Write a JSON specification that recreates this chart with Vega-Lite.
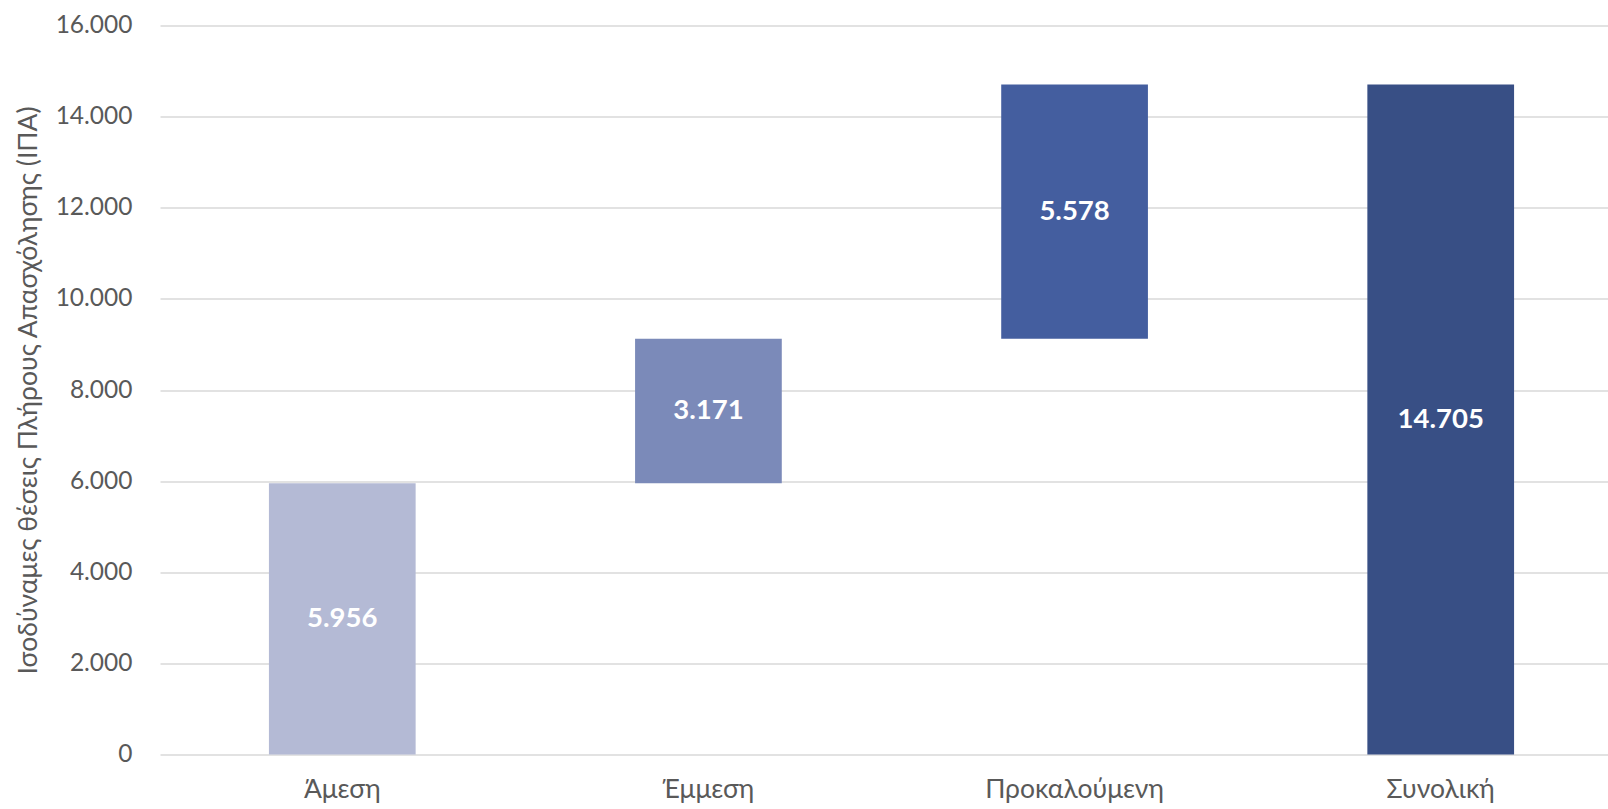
{
  "$schema": "https://vega.github.io/schema/vega-lite/v6.json",
  "width": 1448,
  "height": 729,
  "autosize": {"type": "none"},
  "padding": {"left": 160, "top": 25.5, "right": 0, "bottom": 54.5},
  "background": "white",
  "config": {
    "view": {"stroke": null},
    "font": "Lato",
    "locale": {"number": {"decimal": ",", "thousands": ".", "grouping": [3], "currency": ["", " €"]}}
  },
  "data": {
    "values": [
      {"category": "Άμεση", "start": 0, "end": 5956, "value": 5956},
      {"category": "Έμμεση", "start": 5956, "end": 9127, "value": 3171},
      {"category": "Προκαλούμενη", "start": 9127, "end": 14705, "value": 5578},
      {"category": "Συνολική", "start": 0, "end": 14705, "value": 14705}
    ]
  },
  "encoding": {
    "x": {
      "field": "category",
      "type": "nominal",
      "sort": null,
      "scale": {"type": "band", "range": [0, 1463], "paddingInner": 0.5993, "paddingOuter": 0.2975},
      "axis": {
        "title": null,
        "labelAngle": 0,
        "labelFont": "Lato",
        "labelFontSize": 26.5,
        "labelColor": "#595959",
        "labelPadding": 22,
        "ticks": false,
        "domain": false,
        "grid": false
      }
    }
  },
  "layer": [
    {
      "mark": {"type": "bar"},
      "encoding": {
        "y": {
          "field": "start",
          "type": "quantitative",
          "scale": {"domain": [0, 16000], "nice": false},
          "axis": {
            "title": "Ισοδύναμες θέσεις Πλήρους Απασχόλησης (ΙΠΑ)",
            "titleFont": "Lato",
            "titleFontSize": 26.5,
            "titleFontWeight": "normal",
            "titleColor": "#595959",
            "titleBaseline": "alphabetic",
            "titleX": -124,
            "values": [0, 2000, 4000, 6000, 8000, 10000, 12000, 14000, 16000],
            "format": ",d",
            "labelFont": "Lato",
            "labelFontSize": 24.5,
            "labelColor": "#595959",
            "labelPadding": 28,
            "ticks": false,
            "domain": false,
            "grid": true,
            "gridColor": "#D9D9D9",
            "gridWidth": 1.5
          }
        },
        "y2": {"field": "end"},
        "color": {
          "field": "category",
          "type": "nominal",
          "sort": null,
          "scale": {
            "domain": ["Άμεση", "Έμμεση", "Προκαλούμενη", "Συνολική"],
            "range": ["#B4BAD5", "#7B8AB9", "#445E9F", "#384F85"]
          },
          "legend": null
        }
      }
    },
    {
      "transform": [{"calculate": "(datum.start + datum.end) / 2", "as": "mid"}],
      "mark": {"type": "text", "color": "white", "fontWeight": "bold", "fontSize": 27.5, "font": "Lato", "baseline": "middle", "align": "center"},
      "encoding": {
        "y": {"field": "mid", "type": "quantitative"},
        "text": {"field": "value", "type": "quantitative", "format": ",d"}
      }
    }
  ]
}
